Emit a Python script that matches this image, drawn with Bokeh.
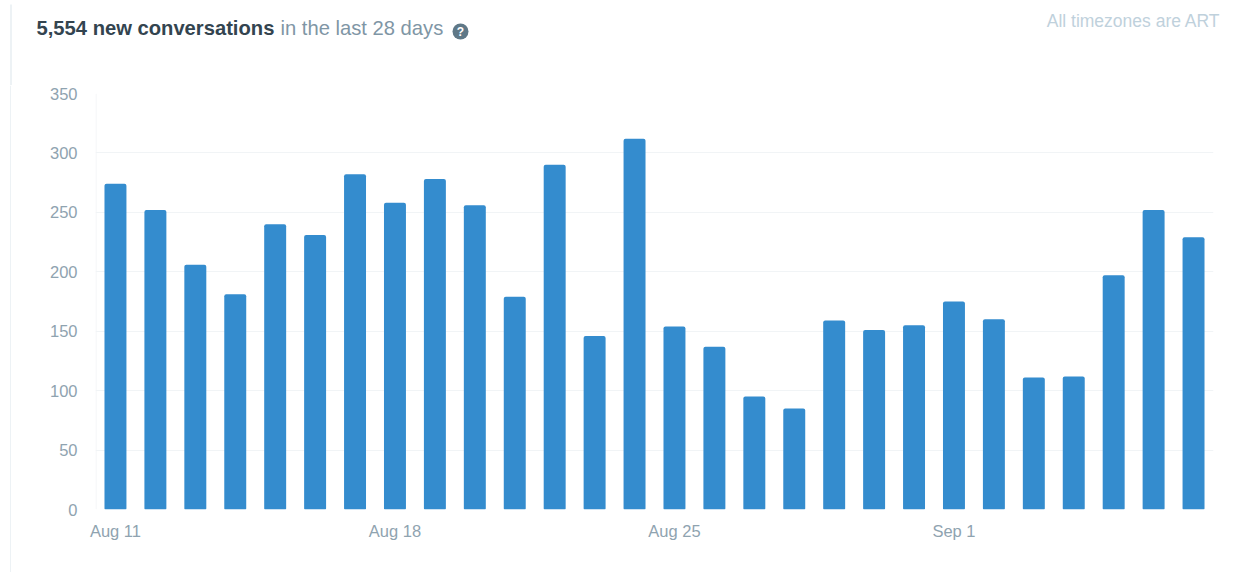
from bokeh.embed import file_html
from bokeh.layouts import column, row
from bokeh.resources import INLINE
from bokeh.plotting import figure
from bokeh.core.properties import value
from bokeh.models import ColumnDataSource, Range1d, FixedTicker, BoxAnnotation

days = list(range(28))
counts = [274, 252, 206, 181, 240, 231, 282, 258, 278, 256, 179, 290, 146, 312,
          154, 137, 95, 85, 159, 151, 155, 175, 160, 111, 112, 197, 252, 229]
tick_days = [0, 7, 14, 21]
tick_names = ["Aug 11", "Aug 18", "Aug 25", "Sep 1"]
y_ticks = [0, 50, 100, 150, 200, 250, 300, 350]
headline_bold = "5,554 new conversations"
headline_rest = "in the last 28 days"
note = "All timezones are ART"

FONT = "Liberation Sans"
W, H = 1236, 572
HEAD_H = 85
STRIP_W = 11
LINE_COLOR = "#DCE6EC"

def bare(width, height, x_range, y_range):
    f = figure(width=width, height=height, output_backend="svg", toolbar_location=None,
               x_axis_type=None, y_axis_type=None, x_range=x_range, y_range=y_range,
               min_border=0, min_border_left=0, min_border_right=0, min_border_top=0,
               min_border_bottom=0, outline_line_color=None,
               background_fill_color="white", border_fill_color="white")
    f.grid.visible = False
    f.frame_align = False
    return f

# Header: its data space is page pixels, y running downward.
head = bare(W, HEAD_H, Range1d(0, W), Range1d(HEAD_H, 0))
head.quad(left=[10], right=[11], top=[4], bottom=[HEAD_H], fill_color=LINE_COLOR, line_color=None)

def label(x, y, text, color, size, style="normal", align="left"):
    head.text(x=[x], y=[y], text=[text], text_color=color, text_font=value(FONT),
              text_font_size=size, text_font_style=style, text_align=align,
              text_baseline="middle")

label(36, 27.5, headline_bold, "#33444F", "20.2px", "bold")
label(280, 27.5, headline_rest, "#7F96A5", "20.2px")
label(1220, 20.5, note, "#BFD1DC", "17.5px", align="right")
head.scatter(x=[460], y=[31], size=16, marker="circle", fill_color="#5F7887", line_color=None)
label(460, 31, "?", "white", "12px", "bold", align="center")

# Left card edge beside the chart.
CH_H = H - HEAD_H
strip = bare(STRIP_W, CH_H, Range1d(0, STRIP_W), Range1d(0, 1))
strip.quad(left=[10], right=[11], top=[1], bottom=[0], fill_color=LINE_COLOR, line_color=None)

# Chart
FL, FR, FT, FB = 95 - STRIP_W, 1213 - STRIP_W, 93 - HEAD_H, 509 - HEAD_H
CH_W = W - STRIP_W
p = figure(width=CH_W, height=CH_H, output_backend="svg", toolbar_location=None,
           x_range=Range1d(-0.5, 27.5), y_range=Range1d(0, 350),
           min_border_left=FL, min_border_right=CH_W - FR, min_border_top=FT,
           min_border_bottom=CH_H - FB,
           background_fill_color="white", border_fill_color="white", outline_line_color=None)
p.frame_align = False

src = ColumnDataSource(dict(x=days, y=counts))
p.vbar(x="x", top="y", width=0.55, bottom=0, source=src, fill_color="#348CCE",
       line_color=None, border_radius=(2, 2, 1, 1))

p.xgrid.visible = False
p.ygrid.ticker = FixedTicker(ticks=y_ticks)
p.ygrid.grid_line_color = "#F1F4F6"
p.ygrid.grid_line_width = 1

p.yaxis.ticker = FixedTicker(ticks=y_ticks)
p.xaxis.ticker = FixedTicker(ticks=tick_days)
p.xaxis.major_label_overrides = dict(zip(tick_days, tick_names))
for ax, standoff in ((p.xaxis, 6), (p.yaxis, 12)):
    ax.axis_line_color = None
    ax.major_tick_line_color = None
    ax.minor_tick_line_color = None
    ax.major_label_text_color = "#8FA3B0"
    ax.major_label_text_font = FONT
    ax.major_label_text_font_size = "16.5px"
    ax.major_label_standoff = standoff

# Faint left edge of the plot area, inside the frame.
p.add_layout(BoxAnnotation(left=0, right=1, left_units="screen", right_units="screen",
                           fill_color="#F1F4F6", fill_alpha=1, line_color=None))

page = column(head, row(strip, p, spacing=0), spacing=0)
open("out.html", "w").write(file_html(page, INLINE))
